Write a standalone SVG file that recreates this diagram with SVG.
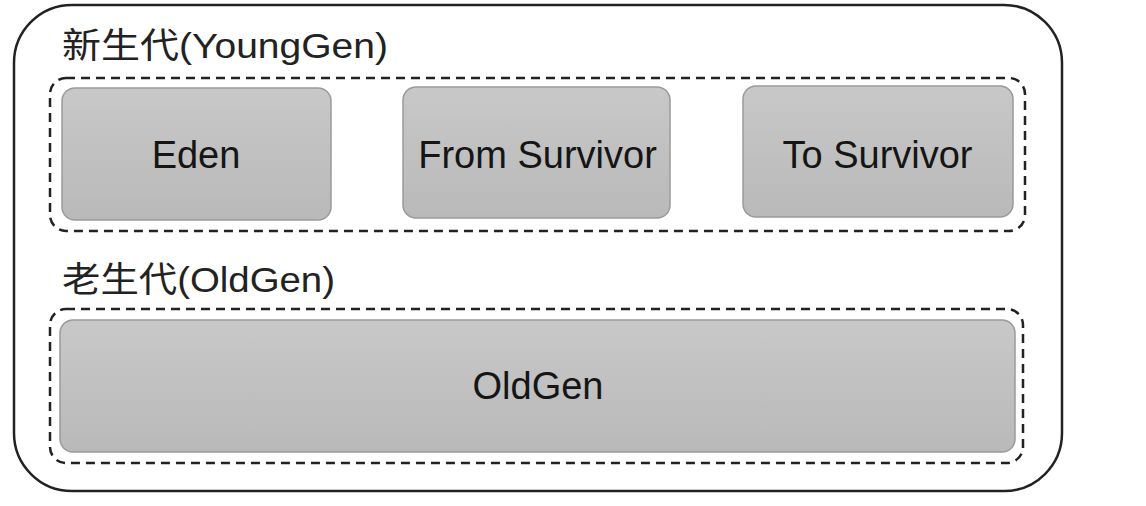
<svg xmlns="http://www.w3.org/2000/svg" width="1146" height="506" viewBox="0 0 1146 506">
<style>
.outer{fill:#fff;stroke:#222;stroke-width:2.5}
.dash{fill:none;stroke:#222;stroke-width:2.5;stroke-dasharray:9 6}
.node{fill:url(#g);stroke:#9a9a9a;stroke-width:1.5}
.lbl{font-family:"Liberation Sans","Noto Sans CJK SC",sans-serif;font-size:35px;fill:#222}
.nt{font-family:"Liberation Sans",Arial,sans-serif;font-size:38px;fill:#151515;text-anchor:middle}
</style>
<defs>
<linearGradient id="g" x1="0" y1="0" x2="0" y2="1">
<stop offset="0" stop-color="#c8c8c8"/>
<stop offset="1" stop-color="#b9b9b9"/>
</linearGradient>
</defs>
<rect width="1146" height="506" fill="#fff"/>
<g id="heap">
<rect class="outer" x="14" y="5" width="1048" height="486" rx="58" ry="58"/>
</g>
<g id="young">
<text class="lbl" x="62" y="58" textLength="326" lengthAdjust="spacingAndGlyphs">新生代(YoungGen)</text>
<rect class="dash" x="50" y="78" width="975" height="153" rx="16" ry="16"/>
</g>
<g id="eden">
<rect class="node" x="62" y="88" width="269" height="132" rx="13" ry="13"/>
<text class="nt" x="196" y="168">Eden</text>
</g>
<g id="from">
<rect class="node" x="403" y="87" width="267" height="131" rx="13" ry="13"/>
<text class="nt" x="537.5" y="168">From Survivor</text>
</g>
<g id="to">
<rect class="node" x="743" y="86" width="270" height="131" rx="13" ry="13"/>
<text class="nt" x="877.5" y="168">To Survivor</text>
</g>
<g id="old">
<text class="lbl" x="62" y="292" textLength="273" lengthAdjust="spacingAndGlyphs">老生代(OldGen)</text>
<rect class="dash" x="50" y="309" width="973" height="154" rx="16" ry="16"/>
</g>
<g id="oldgen">
<rect class="node" x="60" y="320" width="955" height="132" rx="13" ry="13"/>
<text class="nt" x="538" y="399">OldGen</text>
</g>
<g id="connectors"/>
</svg>
